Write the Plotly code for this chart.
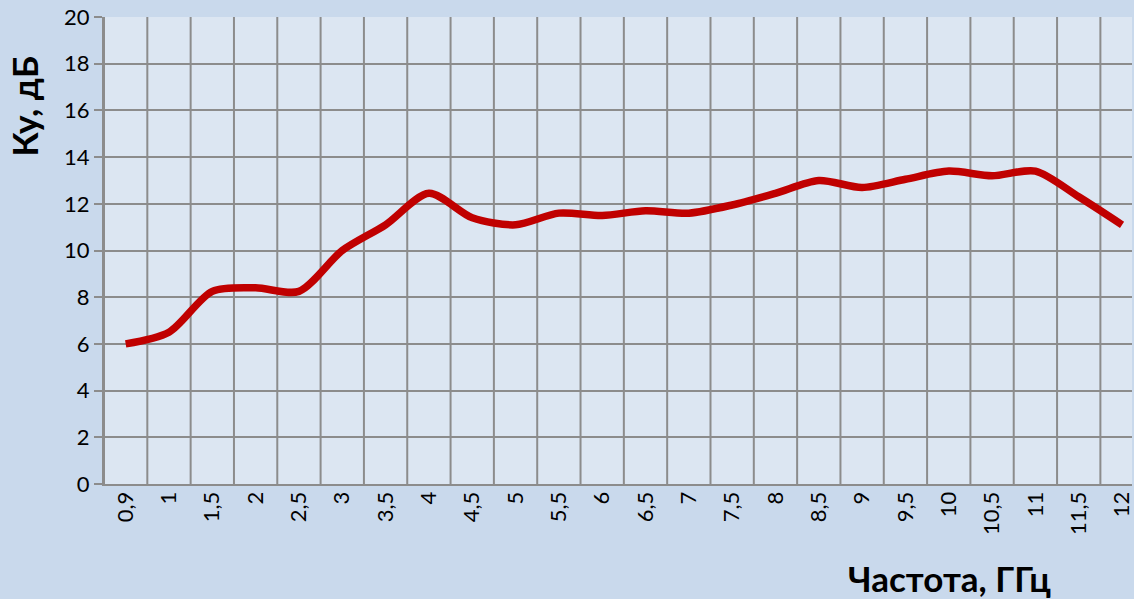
import plotly.graph_objects as go

categories = ["0,9", "1", "1,5", "2", "2,5", "3", "3,5", "4", "4,5", "5", "5,5", "6",
              "6,5", "7", "7,5", "8", "8,5", "9", "9,5", "10", "10,5", "11", "11,5", "12"]
gain_db = [6.0, 6.5, 8.25, 8.4, 8.25, 10.0, 11.1, 12.45, 11.4, 11.1, 11.6, 11.5,
           11.7, 11.6, 11.95, 12.45, 13.0, 12.7, 13.05, 13.4, 13.2, 13.4, 12.3, 11.1]
y_ticks = [0, 2, 4, 6, 8, 10, 12, 14, 16, 18, 20]

FONT = "Lato"
GRID = "#8C8C8C"

fig = go.Figure()
fig.add_trace(go.Scatter(
    x=list(range(len(categories))), y=gain_db, mode="lines",
    line=dict(color="#C00000", width=7.5, shape="spline", smoothing=0.8),
    hoverinfo="skip", showlegend=False,
))

fig.update_layout(
    width=1134, height=599,
    margin=dict(l=104, r=0, t=17, b=115),
    paper_bgcolor="#C9D9EC", plot_bgcolor="#DCE6F2",
    font=dict(family=FONT, size=22, color="#000000"),
    xaxis=dict(
        tickmode="array", tickvals=list(range(len(categories))), ticktext=categories,
        range=[-0.5, 23.23], tickangle=-90,
        showgrid=False, zeroline=False,
        showline=True, linecolor=GRID, linewidth=2,
        ticks="", tickfont=dict(family=FONT, size=22),
        ticklabeloverflow="allow", ticklabelstandoff=-3,
    ),
    yaxis=dict(
        range=[0, 20], tickvals=y_ticks,
        showgrid=True, gridcolor=GRID, gridwidth=2,
        zeroline=False, showline=True, linecolor=GRID, linewidth=2,
        ticks="outside", ticklen=8, tickcolor=GRID, tickwidth=2,
        tickfont=dict(family=FONT, size=22), ticksuffix="  ",
    ),
)

# vertical gridlines at category boundaries
for i in range(len(categories) + 1):
    fig.add_shape(type="line", xref="x", yref="y", x0=i - 0.5, x1=i - 0.5, y0=0, y1=20,
                  line=dict(color=GRID, width=2), layer="below")

fig.add_annotation(text="<b>Ку, дБ</b>", xref="paper", yref="paper",
                   x=-0.078, y=0.81, textangle=-90, showarrow=False,
                   xanchor="center", yanchor="middle",
                   font=dict(family=FONT, size=35, color="#000000"))
fig.add_annotation(text="<b>Частота, ГГц</b>", xref="paper", yref="paper",
                   x=0.822, y=-0.201, showarrow=False,
                   xanchor="center", yanchor="middle",
                   font=dict(family=FONT, size=35, color="#000000"))

fig.write_html("out.html", config={"displayModeBar": False},
               post_script="document.body.style.margin='0';document.body.style.overflow='hidden';")
